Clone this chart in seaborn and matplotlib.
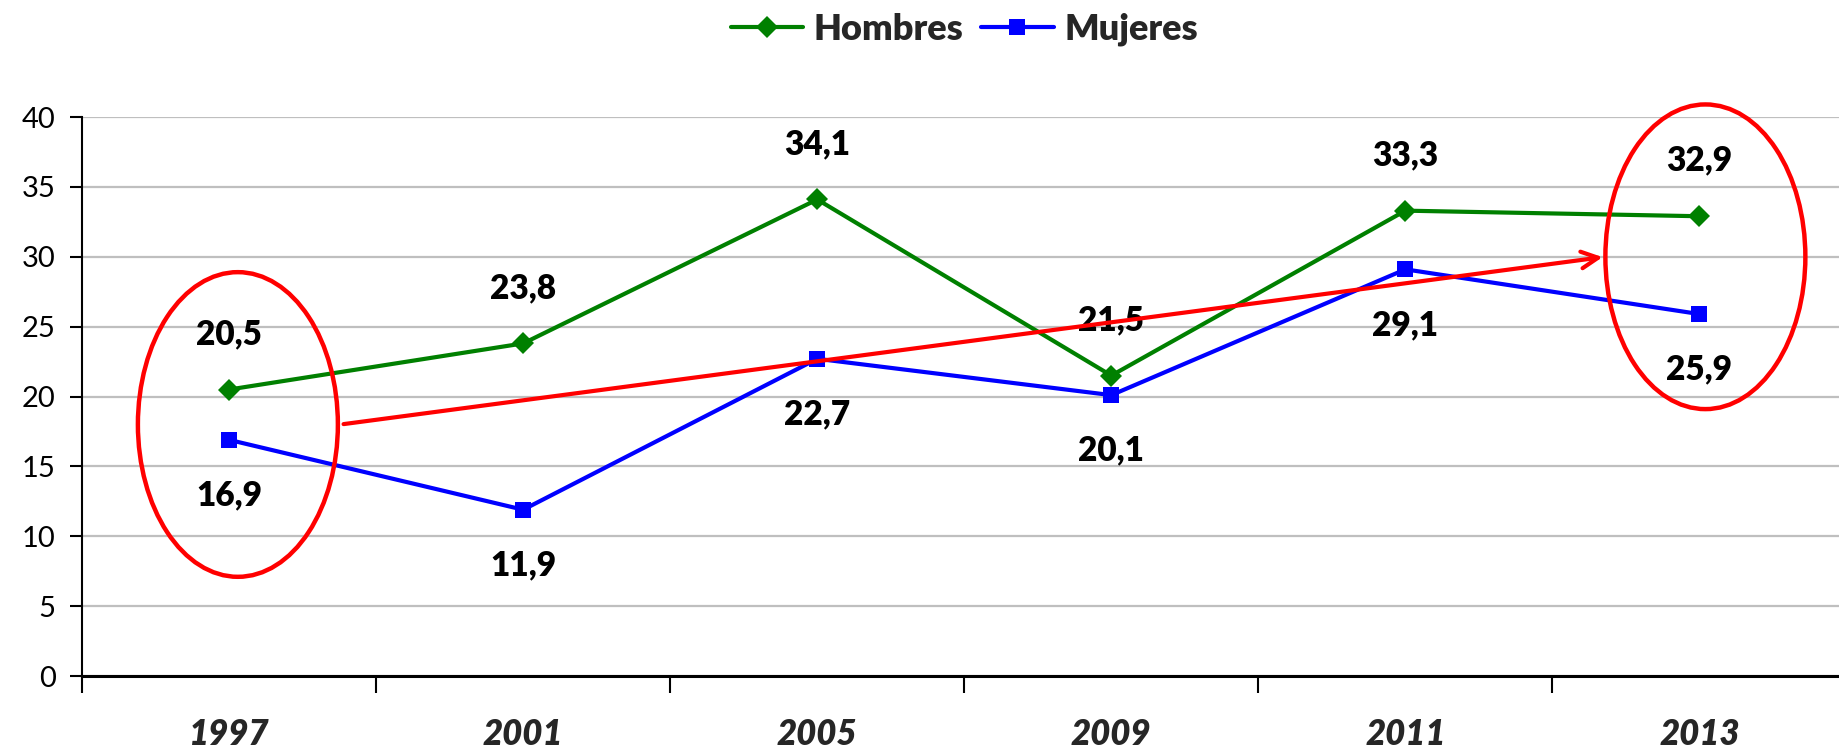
import numpy as np
import pandas as pd
import matplotlib
matplotlib.use("Agg")
import matplotlib.pyplot as plt
from matplotlib.patches import Ellipse
import seaborn as sns

# ---------------- data ----------------
years = ["1997", "2001", "2005", "2009", "2011", "2013"]
hombres = [20.5, 23.8, 34.1, 21.5, 33.3, 32.9]
mujeres = [16.9, 11.9, 22.7, 20.1, 29.1, 25.9]
series_names = ["Hombres", "Mujeres"]

df = pd.DataFrame({
    "pos": list(range(len(years))) * 2,
    "valor": hombres + mujeres,
    "serie": [series_names[0]] * len(years) + [series_names[1]] * len(years),
})

sns.set_theme(style="white")
plt.rcParams["font.family"] = ["Lato", "DejaVu Sans"]

fig = plt.figure(figsize=(18.39, 7.55), dpi=100)
ax = fig.add_axes([0.0446, 0.1046, 0.9595, 0.7404])

colors = {"Hombres": "#008000", "Mujeres": "#0000FF"}
sns.lineplot(data=df, x="pos", y="valor", hue="serie", style="serie",
             palette=colors, markers={"Hombres": "D", "Mujeres": "s"},
             dashes=False, linewidth=3.0, markersize=11,
             markeredgewidth=0, ax=ax)

# data labels
for i, v in enumerate(hombres):
    ax.annotate(f"{v:.1f}".replace(".", ","), (i, v), xytext=(0, 40),
                textcoords="offset points", ha="center", va="center",
                fontsize=24, fontweight="heavy", color="black")
for i, v in enumerate(mujeres):
    ax.annotate(f"{v:.1f}".replace(".", ","), (i, v), xytext=(0, -40),
                textcoords="offset points", ha="center", va="center",
                fontsize=24, fontweight="heavy", color="black")

# red highlight ellipses and trend arrow
for cx, cy in [(0.03, 18.0), (5.02, 30.0)]:
    ax.add_patch(Ellipse((cx, cy), 0.68, 21.8, fill=False, clip_on=False,
                         edgecolor="#FF0000", linewidth=3.2, zorder=5))
ax.annotate("", xy=(4.68, 30.0), xytext=(0.38, 18.0),
            arrowprops=dict(arrowstyle="->", color="#FF0000", lw=3.0,
                            mutation_scale=30))

# axes
ax.set_xlim(-0.5, len(years) - 0.5)
ax.set_ylim(0, 40)
ax.set_yticks(np.arange(0, 41, 5))
ax.yaxis.grid(True, color="#BFBFBF", linewidth=1.6)
ax.xaxis.grid(False)
ax.set_axisbelow(True)
ax.set_xticks(range(len(years)))
ax.set_xticklabels(years, fontsize=25, fontweight="heavy", style="italic")
ax.set_xticks(np.arange(-0.5, len(years), 1), minor=True)
ax.tick_params(axis="x", which="major", length=0, pad=30)
ax.tick_params(axis="x", which="minor", length=12, width=1.5,
               color="black", direction="out", bottom=True)
ax.tick_params(axis="y", length=9, width=1.5, color="black",
               direction="out", left=True, labelsize=21, pad=10)
for lab in ax.get_yticklabels():
    lab.set_color("black")
ax.set_xlabel("")
ax.set_ylabel("")
for s in ["top", "right"]:
    ax.spines[s].set_visible(False)
ax.spines["left"].set_color("black")
ax.spines["left"].set_linewidth(1.5)
ax.spines["bottom"].set_color("black")
ax.spines["bottom"].set_linewidth(2.2)

handles, labels = ax.get_legend_handles_labels()
ax.legend(handles, labels, loc="center", bbox_to_anchor=(0.5, 1.157),
          ncol=2, frameon=False, prop={"weight": "heavy", "size": 26},
          handlelength=2.0, handletextpad=0.3, columnspacing=0.5)

fig.savefig("out.png", dpi=100)
